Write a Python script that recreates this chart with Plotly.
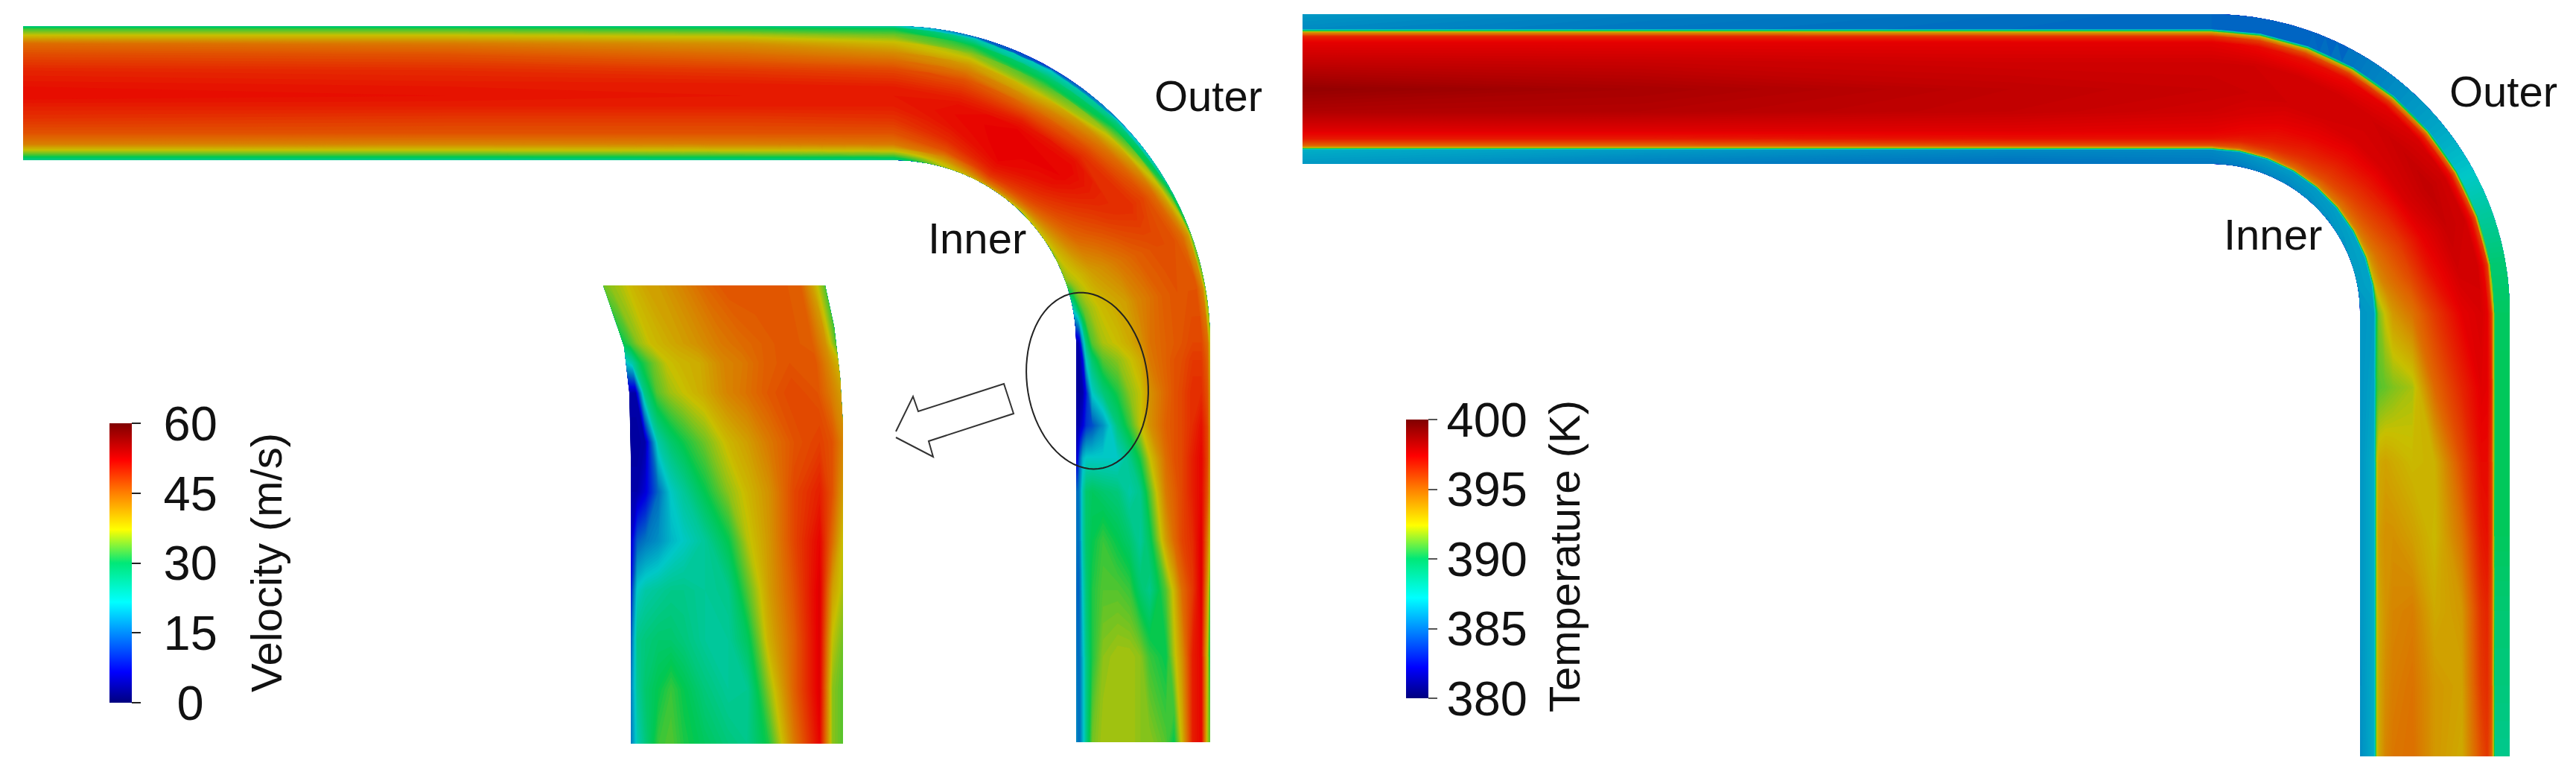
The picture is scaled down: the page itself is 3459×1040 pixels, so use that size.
import numpy as np
import plotly.graph_objects as go

# colores de la barra (brillantes) y del campo (mas oscuros, vienen con sombreado)
barra_colores = [[0, '#00007f'], [0.11, '#0000ff'], [0.36, '#00ffff'], [0.5, '#00e878'],
                 [0.62, '#ffff00'], [0.75, '#ff8000'], [0.87, '#ff0000'], [1, '#800000']]
campo_colores = [[0, '#00007f'], [0.11, '#0000e0'], [0.24, '#0070c0'], [0.36, '#00c8c8'], [0.5, '#00c850'],
                 [0.62, '#c8c000'], [0.75, '#e06000'], [0.87, '#e80000'], [1, '#800000']]

# ---------- velocidad: estaciones a lo largo del tubo, b = 0 pared externa, b = 1 pared interna
vel_b = [0, .02, .066, .13, .21, .27, .33, .45, .52, .6, .69, .8, .88, .925, .95, .97, .985, 1]
# estaciones: x=31, x=600, x=1000 ; theta 0,15,30,45,60,70,80,90 ; y=483,527,571,615,660,726,792,881,996
vel_z = [
    [26, 32, 37, 44, 46.5, 48, 49.5, 51, 51.5, 50, 48.5, 46, 42.5, 37, 34, 31, 28, 26],
    [26, 32, 37, 43, 46, 47.5, 49, 50.5, 51, 50, 48, 46, 42, 37, 34, 31, 28, 25],
    [26, 31, 36, 41, 44, 46, 48, 50.5, 50.5, 50, 48, 46, 42.5, 37.5, 34.5, 31.5, 28.5, 25.5],
    [24, 30, 34, 38, 42, 44.5, 47, 50, 50.5, 50, 48.5, 46, 43, 38, 35, 32, 29, 26],
    [14, 24, 30, 35, 40, 43, 46, 49.5, 51, 51.5, 51, 49, 46, 42, 40, 38, 37, 36],
    [10, 22, 27, 32, 37, 40.5, 44, 50, 52, 52.5, 52.5, 52, 50, 48, 46, 44, 42, 38],
    [18, 26, 30, 36, 42, 44.5, 47, 51, 52, 52, 51, 49, 47, 45, 43, 41, 38, 36],
    [26, 31, 38, 44, 47, 48, 49, 48.5, 48, 47, 46, 44.5, 42, 40, 39, 38, 37, 35],
    [33, 40, 44, 46, 46.5, 46.5, 46, 45, 44, 43, 41.5, 40, 38, 37, 36.5, 36, 35.5, 35],
    [35, 42, 46, 46, 46, 45.5, 45, 43, 42, 40, 39, 37.5, 35.5, 33.5, 31, 27, 24, 22],
    [37, 44, 47, 47, 46, 45.5, 45, 43.5, 41, 39, 37.5, 36, 33, 27, 18, 6, 3, 3],
    [38, 45, 48, 48, 46.5, 46, 45, 43, 39, 37, 35, 33, 28, 22, 7, 3, 2, 3],
    [40, 46, 49, 49, 47, 46, 44.5, 41, 37, 35, 31, 27, 22, 8, 3, 2, 2, 2],
    [41, 47, 51, 49, 47, 46, 45, 41, 37, 32, 27, 17, 12, 10, 6, 4, 3, 3],
    [41, 47, 52, 50, 47, 46, 44, 37, 31, 26, 22, 22, 22, 22, 20, 14, 8, 4],
    [40, 46, 52, 50, 47, 45, 43, 33, 26, 24, 27, 28, 29, 28, 24, 17, 14, 15],
    [37, 43, 53, 49, 47, 44, 40, 29, 25, 28, 30, 32, 30, 28, 24, 16, 14, 16],
    [32, 40, 53, 48, 44, 38, 33, 26, 28, 32, 33, 33, 31, 27, 22, 15, 13, 15],
    [30, 37, 52, 50, 41, 36, 30, 32, 35, 36, 36, 35, 31, 26, 20, 15, 14, 16],
    [33, 36, 52, 50, 38, 30, 33, 35, 35, 36, 36, 36, 34, 26, 20, 15, 15, 17],
]

# ---------- recuadro ampliado (filas de arriba hacia abajo)
zoom_filas = [383, 461, 487, 527, 593, 660, 726, 792, 859, 925, 998]
zoom_b = [0, .03, .07, .13, .19, .25, .35, .46, .55, .65, .77, .89, .95, 1]
zoom_z = [
    [34, 35, 36, 38, 39.5, 40, 42, 44.5, 46, 46, 46, 45, 39, 33],
    [30, 32, 35, 37.5, 38.5, 39.5, 41, 43, 44, 45, 46, 45, 41, 33],
    [21, 24, 30, 34, 37, 38, 39, 42, 43, 45, 46, 46, 42, 38],
    [3, 3, 26, 33, 35.5, 37, 39, 42, 43.5, 45.5, 47, 46, 43, 40],
    [2, 2, 3, 24, 28, 30.5, 34, 38, 40, 43, 46, 47.5, 46, 42],
    [3, 3, 6, 14, 22, 25, 30, 35, 38, 41, 47, 50, 46, 40],
    [5, 13, 15, 17, 20, 22, 25, 30, 36.5, 40.5, 47, 52, 44, 37],
    [8, 22, 24, 25, 26, 26, 25, 26, 33, 40, 46, 53, 40, 36],
    [12, 26, 27, 28, 28, 27, 25, 25, 29, 38.5, 45, 53, 37, 34],
    [15, 25, 28, 30, 32, 30, 27, 25, 25.5, 35, 45, 53, 35, 33],
    [15, 23, 27, 32, 33, 31, 29, 27, 26, 31, 43, 52, 35, 33],
]

# ---------- temperatura
temp_b = [0, .10, .106, .122, .15, .19, .32, .5, .65, .78, .83, .875, .89, .895, .905, 1]
# estaciones: x=1749, x=2200, x=2700 ; theta 0,10,...,80,90 ; y=520,620,720,820,920,1015
temp_z = [
    [385.9, 385.5, 388, 393.5, 396.5, 397.5, 398.3, 399.5, 398.8, 397.6, 396.8, 395, 393, 390, 386.5, 385.9],
    [385.2, 385, 388, 393.5, 396.5, 397.5, 398.2, 399, 398.7, 397.6, 396.8, 395, 393, 390, 386, 385.2],
    [384.8, 384.7, 388, 393.3, 396.2, 397.5, 398, 398.4, 398.3, 397.6, 397, 395.5, 393, 390, 385.5, 384.8],
    [384.6, 384.6, 388, 393.3, 396.2, 397.5, 398, 398.2, 398, 397.5, 397, 395.5, 393, 390, 385.5, 385],
    [384.6, 384.6, 388, 393.1, 395.8, 397.2, 398, 398.1, 397.8, 397.2, 396.6, 395.2, 393.2, 390, 385.8, 385.1],
    [384.6, 384.6, 388, 393, 395.5, 397, 398, 398, 397.5, 396.8, 396.2, 395, 393.5, 390, 386, 385.3],
    [385, 385, 388.5, 393.2, 395.8, 397.2, 398, 397.9, 397.3, 396.4, 395.8, 394.8, 393.5, 390, 386, 385.4],
    [385.6, 385.6, 389, 393.5, 396, 397.5, 398, 397.8, 397, 396, 395.5, 394.5, 393.5, 390, 386, 385.6],
    [386.2, 386.2, 389.5, 394.2, 396.5, 397.8, 398.2, 397.8, 396.8, 395.8, 395.2, 394.4, 393.2, 390, 386.1, 385.7],
    [387, 387, 390, 395, 397, 398, 398.4, 397.8, 396.5, 395.5, 395, 394.2, 393, 390, 386.2, 385.9],
    [388.2, 388.2, 390.8, 395.5, 397.1, 398, 398.2, 397.4, 396, 395, 394.5, 393.6, 392.5, 389.5, 386.2, 386],
    [389.2, 389.2, 391.5, 396, 397.2, 398, 398, 397, 395.5, 394.5, 394, 393, 392, 389, 386.2, 386],
    [389.6, 389.6, 392, 396, 397.5, 397.8, 397.5, 396, 394.5, 393.5, 392.5, 391.5, 390, 388, 386, 385.8],
    [389.8, 389.8, 392, 396.5, 397.5, 397.6, 396.5, 394.8, 392, 391.5, 391.2, 391, 390.5, 388.5, 386.2, 385.8],
    [389.8, 389.8, 392, 396, 397.2, 397.2, 395.5, 392.8, 392.6, 393, 393.2, 393, 392, 389, 386.5, 385.8],
    [389.7, 389.7, 392, 396, 397, 396.8, 394.5, 392.6, 393.3, 393.7, 393.7, 393.3, 392, 389, 386.5, 385.8],
    [389.2, 389.2, 392, 395.5, 396.5, 396.2, 393.5, 393, 394.2, 394, 393.6, 393, 392, 389, 386.5, 385.8],
    [389, 389, 391.5, 395.5, 396.3, 396, 393.2, 393.5, 394.5, 394.2, 393.8, 393, 392, 389, 386.5, 385.7],
    [388.6, 388.6, 391.5, 395, 396, 395.5, 393, 393.5, 394.6, 394.4, 394, 393, 392, 389, 386.5, 385.6],
]

vel_ticks = [60, 45, 30, 15, 0]
vel_ticktext = ['\u00a060', '\u00a045', '\u00a030', '\u00a015', '\u00a0\u00a00']
temp_ticks = [400, 395, 390, 385, 380]


def tubo(x0, cx, cy, r_ext, r_int, y1):
    """geometria: tramo recto, codo de 90 grados y tramo recto; devuelve a (longitud) -> (x, y)"""
    r = (r_ext + r_int) / 2
    l1 = cx - x0
    l2 = r * np.pi / 2

    def pos(a, b):
        rad = r_ext + (r_int - r_ext) * b
        if a <= l1:
            return cx - (l1 - a), cy - rad
        if a <= l1 + l2:
            th = (a - l1) / r
            return cx + rad * np.sin(th), cy - rad * np.cos(th)
        return cx + rad, cy + (a - l1 - l2)

    a_fin = l1 + l2 + (y1 - cy)
    a_malla = np.linspace(0, a_fin, 240)
    b_malla = [0, 0.5, 1]
    xs = [[pos(a, b)[0] for a in a_malla] for b in b_malla]
    ys = [[pos(a, b)[1] for a in a_malla] for b in b_malla]
    return a_malla, b_malla, xs, ys, l1, l2, r


def campo(fig, a, b, xs, ys, a_z, b_z, z, zmin, zmax, paso, nombre):
    fig.add_trace(go.Carpet(
        a=list(a), b=list(b), x=xs, y=ys, carpet=nombre,
        aaxis=dict(showgrid=False, showline=False, showticklabels='none', startline=False, endline=False,
                   minorgridcount=0, smoothing=0),
        baxis=dict(showgrid=False, showline=False, showticklabels='none', startline=False, endline=False,
                   minorgridcount=0, smoothing=0),
    ))
    fig.add_trace(go.Contourcarpet(
        a=list(a_z), b=list(b_z), z=np.array(z).T.tolist(), carpet=nombre,
        autocontour=False, contours=dict(start=zmin, end=zmax, size=paso, coloring='fill', showlines=False),
        line=dict(width=0, smoothing=0), colorscale=campo_colores, zmin=zmin, zmax=zmax, showscale=False,
    ))


def barra(fig, zmin, zmax, x, y, alto, vals, textos, color_tick):
    fig.add_trace(go.Scatter(
        x=[-500, -500], y=[-500, -500], mode='markers', showlegend=False,
        marker=dict(color=[zmin, zmax], cmin=zmin, cmax=zmax, colorscale=barra_colores, showscale=True,
                    colorbar=dict(x=x / 3459, xanchor='left', xpad=0, y=1 - y / 1040, yanchor='top', ypad=0,
                                  len=alto / 1040, lenmode='fraction', thickness=30, thicknessmode='pixels',
                                  outlinewidth=0, tickmode='array', tickvals=vals, ticktext=textos,
                                  ticks='outside', ticklen=12, tickwidth=2, tickcolor=color_tick,
                                  tickfont=dict(family='Liberation Sans', size=65, color='#111'))),
    ))


fig = go.Figure()

# tubo de velocidad
a, b, xs, ys, l1, l2, r = tubo(31, 1200, 460, 425, 245, 996)
r_fin = l1 + l2
vel_a = [0, 600 - 31, 1000 - 31] + [l1 + r * np.radians(t) for t in (0, 15, 30, 45, 60, 70, 80, 90)] \
    + [r_fin + (y - 460) for y in (483, 527, 571, 615, 660, 726, 792, 881, 996)]
campo(fig, a, b, xs, ys, vel_a, vel_b, vel_z, 0, 60, 0.5, 'vel')

# recuadro
a_zoom = np.linspace(383, 998, 120)
borde_izq = np.interp(a_zoom, [383, 465, 527, 615, 998], [810, 838, 845, 847, 847])
borde_der = np.interp(a_zoom, [383, 438, 505, 571, 998], [1108, 1120, 1128, 1132, 1132])
xs_zoom = [list(borde_izq), list(borde_der)]
ys_zoom = [list(a_zoom), list(a_zoom)]
campo(fig, a_zoom, [0, 1], xs_zoom, ys_zoom, zoom_filas, zoom_b, zoom_z, 0, 60, 0.5, 'zoom')

# tubo de temperatura
a, b, xs, ys, l1, l2, r = tubo(1749, 2969, 420, 401, 200, 1015)
r_fin = l1 + l2
temp_a = [0, 2200 - 1749, 2700 - 1749] + [l1 + r * np.radians(t) for t in range(0, 91, 10)] \
    + [r_fin + (y - 420) for y in (520, 620, 720, 820, 920, 1015)]
campo(fig, a, b, xs, ys, temp_a, temp_b, temp_z, 380, 400, 0.1, 'temp')

barra(fig, 0, 60, 147, 568, 375, vel_ticks, vel_ticktext, '#222')
barra(fig, 380, 400, 1888, 563, 374, temp_ticks, [str(t) for t in temp_ticks], '#555')

# elipse y flecha
t = np.linspace(0, 2 * np.pi, 80)
phi = np.radians(-8)
ex = 1460 + 81 * np.cos(t) * np.cos(phi) - 119 * np.sin(t) * np.sin(phi)
ey = 511 + 81 * np.cos(t) * np.sin(phi) + 119 * np.sin(t) * np.cos(phi)
elipse = 'M ' + ' L '.join(f'{x:.1f},{y:.1f}' for x, y in zip(ex, ey)) + ' Z'
flecha = 'M 1203,579 L 1226,532 L 1233,552 L 1348,515 L 1361,555 L 1247,592 L 1253,613 L 1203,587'
fig.update_layout(shapes=[
    dict(type='path', path=elipse, line=dict(color='#222', width=2), fillcolor='rgba(0,0,0,0)'),
    dict(type='path', path=flecha, line=dict(color='#333', width=2), fillcolor='white'),
])

etiquetas = [('Outer', 1622, 128, 0), ('Inner', 1312, 319, 0), ('Outer', 3361, 122, 0), ('Inner', 3052, 314, 0),
             ('Velocity (m/s)', 357, 755, -90), ('Temperature (K)', 2100, 747, -90)]
fig.update_layout(annotations=[
    dict(text=txt, x=x, y=y, xref='x', yref='y', showarrow=False, textangle=ang,
         font=dict(family='Liberation Sans', size=58, color='#111'))
    for txt, x, y, ang in etiquetas
])

fig.update_layout(
    width=3459, height=1040, margin=dict(l=0, r=0, t=0, b=0),
    paper_bgcolor='white', plot_bgcolor='white', showlegend=False,
    xaxis=dict(range=[0, 3459], visible=False),
    yaxis=dict(range=[1040, 0], visible=False),
)

fig.write_html("out.html", config=dict(displayModeBar=False), post_script="document.body.style.margin='0';")
